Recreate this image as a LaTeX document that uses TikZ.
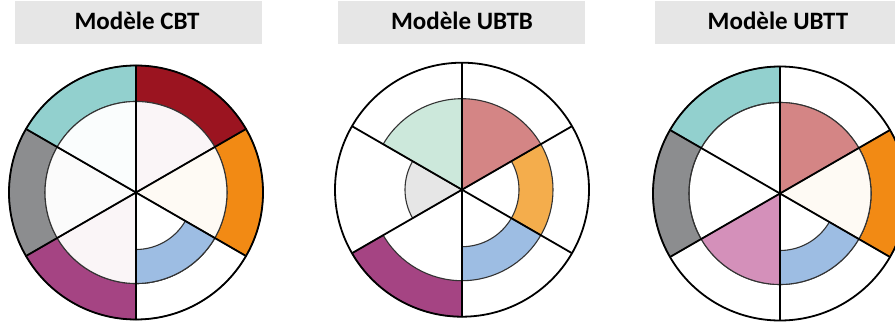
\documentclass[tikz,border=0pt]{standalone}
\usepackage{fontspec}
\setmainfont{Carlito}
\definecolor{cDarkRed}{HTML}{9B1420}
\definecolor{cOrange}{HTML}{F28A14}
\definecolor{cTeal}{HTML}{92D0CE}
\definecolor{cGray}{HTML}{8C8D8F}
\definecolor{cPurple}{HTML}{A54483}
\definecolor{cBlue}{HTML}{9DBDE3}
\definecolor{cPink}{HTML}{D48585}
\definecolor{cLightOrange}{HTML}{F4AD4C}
\definecolor{cMint}{HTML}{CCE8DB}
\definecolor{cLightGray}{HTML}{E6E6E6}
\definecolor{cOrchid}{HTML}{D490BA}
\definecolor{cInPink}{HTML}{FAF5F7}
\definecolor{cCream}{HTML}{FEFAF4}
\definecolor{cNearWhite}{HTML}{FBFBFB}
\definecolor{cTealWhite}{HTML}{FAFDFD}
\definecolor{cTitle}{HTML}{E6E6E6}
\definecolor{cEdge}{HTML}{333333}
\newcommand\ringseg[5]{\path[#1] (#2:#5) arc[start angle=#2,end angle=#3,radius=#5] -- (#3:#4) arc[start angle=#3,end angle=#2,radius=#4] -- cycle;}
\newcommand\pieseg[4]{\path[#1] (0,0) -- (#2:#4) arc[start angle=#2,end angle=#3,radius=#4] -- cycle;}
\tikzset{
  edge/.style={draw=cEdge, line width=1.1pt},
  spoke/.style={draw=black, line width=1.8pt},
  rim/.style={draw=black, line width=1.8pt},
  titlebox/.style={fill=cTitle, draw=none, minimum width=247pt, minimum height=43pt, inner sep=0pt},
  titletext/.style={font=\fontsize{25}{28}\selectfont\bfseries, anchor=base, inner sep=0pt}
}
\newcommand\spokes{\foreach \a in {30,90,...,330} {\draw[spoke] (0,0) -- (\a:127);}\draw[rim] (0,0) circle[radius=127];}
\begin{document}
\begin{tikzpicture}[x=1pt,y=1pt]
\useasboundingbox (0,0) rectangle (895,327);
\clip (0,0) rectangle (895,327);
% titles
\node[titlebox] (box1) at (138,304) {};
\node[titletext] (t1) at (137,297) {Modèle CBT};
\node[titlebox] (box2) at (461.5,304.5) {};
\node[titletext] (t2) at (462,297) {Modèle UBTB};
\node[titlebox] (box3) at (778.5,304.5) {};
\node[titletext] (t3) at (778,297) {Modèle UBTT};
% wheel 1 : CBT
\begin{scope}[shift={(136,134.5)}]
\ringseg{fill=cDarkRed,edge}{30}{90}{91}{127}
\ringseg{fill=cOrange,edge}{-30}{30}{91}{127}
\ringseg{fill=white,edge}{-90}{-30}{91}{127}
\ringseg{fill=cPurple,edge}{-150}{-90}{91}{127}
\ringseg{fill=cGray,edge}{150}{210}{91}{127}
\ringseg{fill=cTeal,edge}{90}{150}{91}{127}
\pieseg{fill=cInPink,edge}{30}{90}{91}
\pieseg{fill=cCream,edge}{-30}{30}{91}
\pieseg{fill=white,edge}{-90}{-30}{91}
\ringseg{fill=cBlue,edge}{-90}{-30}{57}{91}
\pieseg{fill=cInPink,edge}{-150}{-90}{91}
\pieseg{fill=cNearWhite,edge}{150}{210}{91}
\pieseg{fill=cTealWhite,edge}{90}{150}{91}
\spokes
\end{scope}
% wheel 2 : UBTB
\begin{scope}[shift={(462,137.3)}]
\fill[white] (0,0) circle[radius=127];
\ringseg{fill=cPurple,edge}{-150}{-90}{91}{127}
\pieseg{fill=cPink,edge}{30}{90}{91}
\ringseg{fill=cLightOrange,edge}{-30}{30}{57}{91}
\ringseg{fill=cBlue,edge}{-90}{-30}{57}{91}
\pieseg{fill=cLightGray,edge}{150}{210}{57}
\pieseg{fill=cMint,edge}{90}{150}{91}
\spokes
\end{scope}
% wheel 3 : UBTT
\begin{scope}[shift={(780,133.5)}]
\fill[white] (0,0) circle[radius=127];
\ringseg{fill=cTeal,edge}{90}{150}{91}{127}
\ringseg{fill=cGray,edge}{150}{210}{91}{127}
\ringseg{fill=cOrange,edge}{-30}{30}{91}{127}
\draw[edge] (0,0) circle[radius=91];
\pieseg{fill=cPink,edge}{30}{90}{91}
\pieseg{fill=cCream,edge}{-30}{30}{91}
\pieseg{fill=cOrchid,edge}{-150}{-90}{91}
\ringseg{fill=cBlue,edge}{-90}{-30}{57}{91}
\spokes
\end{scope}
\end{tikzpicture}
\end{document}
